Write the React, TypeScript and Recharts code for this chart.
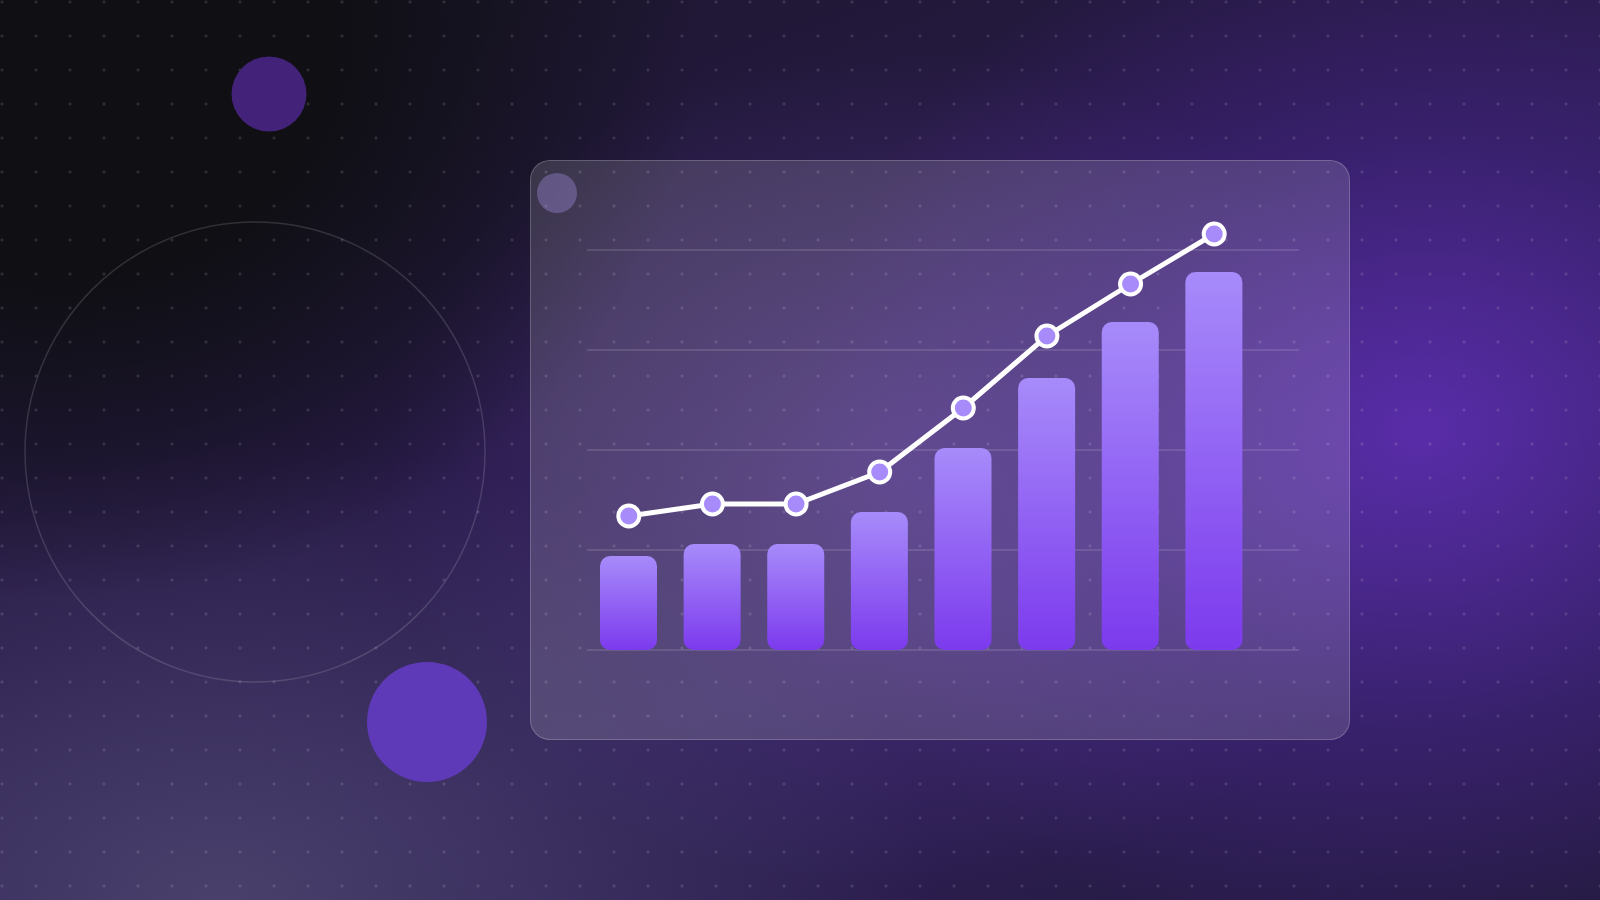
import { ComposedChart, Bar, Line, XAxis, YAxis, CartesianGrid } from 'recharts';

const periods = ['P1', 'P2', 'P3', 'P4', 'P5', 'P6', 'P7', 'P8'];
const barValues = [23.5, 26.5, 26.5, 34.5, 50.5, 68, 82, 94.5];
const lineValues = [33.5, 36.5, 36.5, 44.5, 60.5, 78.5, 91.5, 104];
const gridTicks = [0, 25, 50, 75, 100];

const data = periods.map((name, i) => ({ name, bar: barValues[i], line: lineValues[i] }));

const background = [
  'radial-gradient(ellipse 640px 560px at 60px 40px, rgba(15,15,20,1) 0%, rgba(15,15,20,1) 42%, rgba(15,15,20,0) 100%)',
  'radial-gradient(ellipse 620px 540px at 1420px 430px, rgba(100,48,190,0.78) 0%, rgba(80,40,160,0.38) 55%, rgba(60,30,120,0) 100%)',
  'radial-gradient(ellipse 720px 460px at 220px 900px, rgba(74,66,108,0.95) 0%, rgba(66,58,100,0.5) 55%, rgba(60,50,90,0) 100%)',
  'radial-gradient(ellipse 520px 420px at 900px 470px, rgba(110,70,180,0.4) 0%, rgba(90,60,160,0) 100%)',
  'linear-gradient(160deg, #1a1628 0%, #271a46 38%, #31205c 65%, #231a3e 100%)',
].join(', ');

export default function App() {
  return (
    <div
      style={{
        position: 'absolute',
        left: 0,
        top: 0,
        width: 1600,
        height: 900,
        overflow: 'hidden',
        background,
        fontFamily: 'Inter, sans-serif',
      }}
    >
      {/* dot pattern */}
      <div
        style={{
          position: 'absolute',
          inset: 0,
          backgroundImage: 'radial-gradient(circle, rgba(255,255,255,0.13) 1.3px, transparent 1.8px)',
          backgroundSize: '34px 34px',
          backgroundPosition: '-15px -15px',
        }}
      />
      <svg width={1600} height={900} style={{ position: 'absolute', left: 0, top: 0 }}>
        <circle cx={255} cy={452} r={230} fill='none' stroke='rgba(255,255,255,0.14)' strokeWidth={1.5} />
        <circle cx={269} cy={94} r={37.5} fill='#43237a' />
        <circle cx={427} cy={722} r={60} fill='#5f3ab8' />
      </svg>
      {/* card */}
      <div
        style={{
          position: 'absolute',
          left: 530,
          top: 160,
          width: 820,
          height: 580,
          boxSizing: 'border-box',
          borderRadius: 20,
          border: '1.5px solid rgba(255,255,255,0.2)',
          background: 'rgba(255,255,255,0.14)',
        }}
      >
        <div
          style={{
            position: 'absolute',
            left: 6,
            top: 12,
            width: 40,
            height: 40,
            borderRadius: '50%',
            background: 'rgba(170,150,235,0.35)',
          }}
        />
      </div>
      <div style={{ position: 'absolute', left: 0, top: 0 }}>
        <ComposedChart
          width={1600}
          height={900}
          data={data}
          margin={{ top: 210, right: 301, bottom: 250, left: 587 }}
        >
          <defs>
            <linearGradient id='barFill' x1='0' y1='0' x2='0' y2='1'>
              <stop offset='0%' stopColor='#a78bfa' />
              <stop offset='100%' stopColor='#7c3aed' />
            </linearGradient>
          </defs>
          <CartesianGrid
            vertical={false}
            horizontalValues={gridTicks}
            stroke='rgba(255,255,255,0.16)'
            strokeWidth={1.5}
          />
          <XAxis dataKey='name' hide padding={{ left: 0, right: 43 }} />
          <YAxis hide domain={[0, 110]} ticks={gridTicks} />
          <Bar dataKey='bar' fill='url(#barFill)' barSize={57} radius={10} isAnimationActive={false} />
          <Line
            dataKey='line'
            type='linear'
            stroke='#ffffff'
            strokeWidth={5}
            dot={{ r: 10.5, fill: '#a78bfa', stroke: '#ffffff', strokeWidth: 4 }}
            activeDot={false}
            isAnimationActive={false}
          />
        </ComposedChart>
      </div>
    </div>
  );
}
